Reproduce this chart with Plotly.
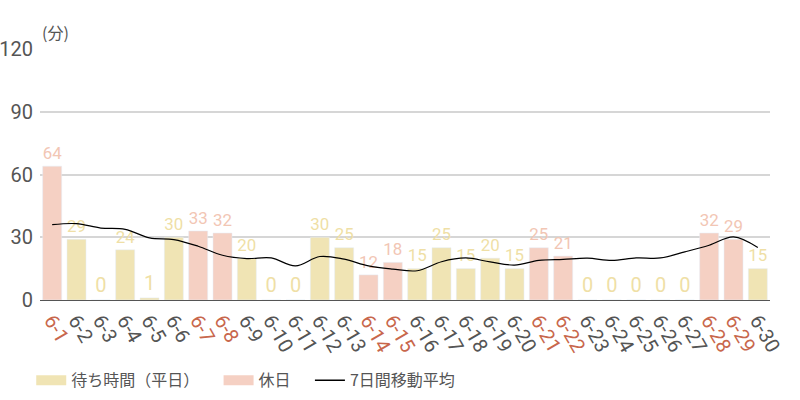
import plotly.graph_objects as go

days = [f"6-{d}" for d in range(1, 31)]
holidays = ["6-1", "6-7", "6-8", "6-14", "6-15", "6-21", "6-22", "6-28", "6-29"]
wait_times = [64, 29, 0, 24, 1, 30, 33, 32, 20, 0,
              0, 30, 25, 12, 18, 15, 25, 15, 20, 15,
              25, 21, 0, 0, 0, 0, 0, 32, 29, 15]
moving_avg = [36.0, 36.5, 34.4, 33.8, 29.7, 28.9, 25.7, 21.4, 19.8, 20.1,
              16.3, 20.8, 19.5, 16.3, 14.8, 14.0, 18.3, 20.1, 18.2, 16.7,
              18.9, 19.4, 20.0, 18.9, 20.1, 20.1, 23.0, 26.2, 30.2, 25.1]
y_ticks = [0, 30, 60, 90, 120]

weekday_col = "#f0e4b4"
holiday_col = "#f5d0c3"
holiday_txt = "#c8674c"

weekday_vals = [None if d in holidays else v for d, v in zip(days, wait_times)]
holiday_vals = [v if d in holidays else None for d, v in zip(days, wait_times)]

fig = go.Figure()
fig.add_trace(go.Bar(
    x=days, y=weekday_vals, name="待ち時間（平日）", showlegend=False,
    marker_color=weekday_col,
    text=weekday_vals, textposition="outside", cliponaxis=False,
    textfont=dict(color="#efdfa6", size=20, family="Roboto"),
))
fig.add_trace(go.Bar(
    x=days, y=holiday_vals, name="休日", showlegend=False,
    marker_color=holiday_col,
    text=holiday_vals, textposition="outside", cliponaxis=False,
    textfont=dict(color="#f2c6b4", size=20, family="Roboto"),
))
fig.add_trace(go.Scatter(
    x=days, y=moving_avg, name="7日間移動平均", mode="lines", showlegend=False,
    line=dict(color="black", width=1.2, shape="spline", smoothing=1),
))

# legend-only entries (wide swatches like the original)
nb = "\u00a0" * 4
fig.add_trace(go.Scatter(x=[None], y=[None], mode="lines", name="待ち時間（平日）" + nb,
                         line=dict(color=weekday_col, width=14)))
fig.add_trace(go.Scatter(x=[None], y=[None], mode="lines", name="休日" + nb,
                         line=dict(color=holiday_col, width=14)))
fig.add_trace(go.Scatter(x=[None], y=[None], mode="lines", name="7日間移動平均",
                         line=dict(color="black", width=1.5)))

tick_text = [f'<span style="color:{holiday_txt}">{d}</span>' if d in holidays else d
             for d in days]

fig.update_layout(
    width=800, height=400,
    margin=dict(l=40, r=30, t=49, b=100, autoexpand=False),
    plot_bgcolor="white", paper_bgcolor="white",
    barmode="overlay", bargap=0.22,
    font=dict(family="Roboto, Noto Sans CJK JP", color="#555555"),
    xaxis=dict(
        tickmode="array", tickvals=days, ticktext=tick_text,
        tickangle=60, tickfont=dict(size=20, color="#555555"),
        showgrid=False, showline=True, linecolor="#555555", linewidth=1,
        ticks="", range=[-0.5, 29.5], automargin=False,
    ),
    yaxis=dict(
        range=[0, 120], tickvals=y_ticks, tickfont=dict(size=20, color="#555555"),
        gridcolor="#d6d6d6", gridwidth=1.5, zeroline=False, ticklabelstandoff=6,
        automargin=False,
    ),
    legend=dict(
        orientation="h", x=-0.012, xanchor="left", y=-0.32, yanchor="middle",
        font=dict(size=16, family="Noto Sans CJK JP", color="#555555"),
        traceorder="normal",
    ),
    showlegend=True,
    annotations=[dict(
        text="(分)", xref="paper", yref="paper", x=0.0, y=1.068,
        xanchor="left", yanchor="middle", showarrow=False,
        font=dict(size=16, family="Noto Sans CJK JP", color="#555555"),
    )],
)

# drop the page's default body margin so the 800x400 figure fills the window
fig.write_html("out.html", config={"displayModeBar": False},
               post_script="document.body.style.margin='0';")
